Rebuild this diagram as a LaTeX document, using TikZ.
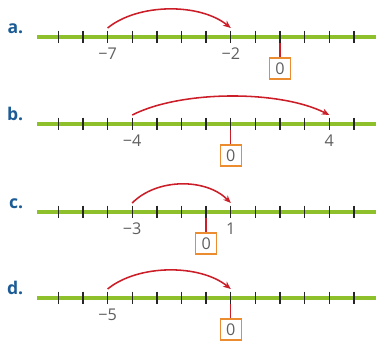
\documentclass[tikz,border=0pt]{standalone}
\usepackage{fontspec}
\setmainfont{Open Sans}
\usetikzlibrary{arrows.meta, positioning}
\definecolor{LG}{RGB}{141,192,42}
\definecolor{LB}{RGB}{28,92,150}
\definecolor{AR}{RGB}{204,30,40}
\definecolor{OB}{RGB}{236,140,48}
\definecolor{NG}{RGB}{95,95,95}

\begin{document}
\begin{tikzpicture}[x=0.25mm, y=-0.25mm,
  axis/.style={draw=LG, line width=2.4pt},
  tickmark/.style={draw=black!85, line width=1pt},
  letter/.style={text=LB, font=\fontsize{12.5}{14}\selectfont\bfseries},
  numlab/.style={text=NG, inner sep=1pt, font=\fontsize{11.5}{13}\selectfont},
  zerobox/.style={draw=OB, line width=1.1pt, text=NG,
                  minimum size=5.25mm, inner sep=0pt,
                  font=\fontsize{11.5}{13}\selectfont},
  zerolink/.style={draw=AR, line width=1pt},
  jump/.style={draw=AR, line width=1.1pt,
               -{Stealth[length=5.5pt, width=4.5pt]}}
]
\useasboundingbox (0,0) rectangle (382,340);

% rows: letter / height / zero tick / jump from / jump to
\foreach \r/\y/\z/\s/\e in {a/37/9/2/7, b/124/7/3/11, c/212/6/3/7, d/298/7/2/7}{
  \foreach \i in {0,...,12}
    \coordinate (\r-\i) at ({58.3+24.64*\i},\y);
  \coordinate (\r-l) at (37,\y);
  \coordinate (\r-r) at (376,\y);
  \node[zerobox, below=5mm of \r-\z] (\r-zero) {0};
  \draw[zerolink] (\r-\z) -- (\r-zero.north);
  \draw[axis] (\r-l) -- (\r-r);
  \foreach \i in {0,...,12}
    \draw[tickmark] ([yshift=1.6mm]\r-\i) -- ([yshift=-1.6mm]\r-\i);
  \node[letter, anchor=base east] (\r-name) at ([xshift=-2.2mm, yshift=0.8mm]\r-l) {\r.};
  \draw[jump] ([yshift=2.25mm]\r-\s)
    .. controls +({6.16*(\e-\s)},-25) and +({-6.16*(\e-\s)},-25) ..
    ([yshift=2.25mm]\r-\e);
}

% numbers under the ticks
\node[numlab, below=2.2mm of a-2] (a-m7) {−7};
\node[numlab, below=2.2mm of a-7] (a-m2) {−2};
\node[numlab, below=2.2mm of b-3] (b-m4) {−4};
\node[numlab, below=2.2mm of b-11] (b-p4) {4};
\node[numlab, below=2.2mm of c-3] (c-m3) {−3};
\node[numlab, below=2.2mm of c-7] (c-p1) {1};
\node[numlab, below=2.2mm of d-2] (d-m5) {−5};
\end{tikzpicture}
\end{document}
